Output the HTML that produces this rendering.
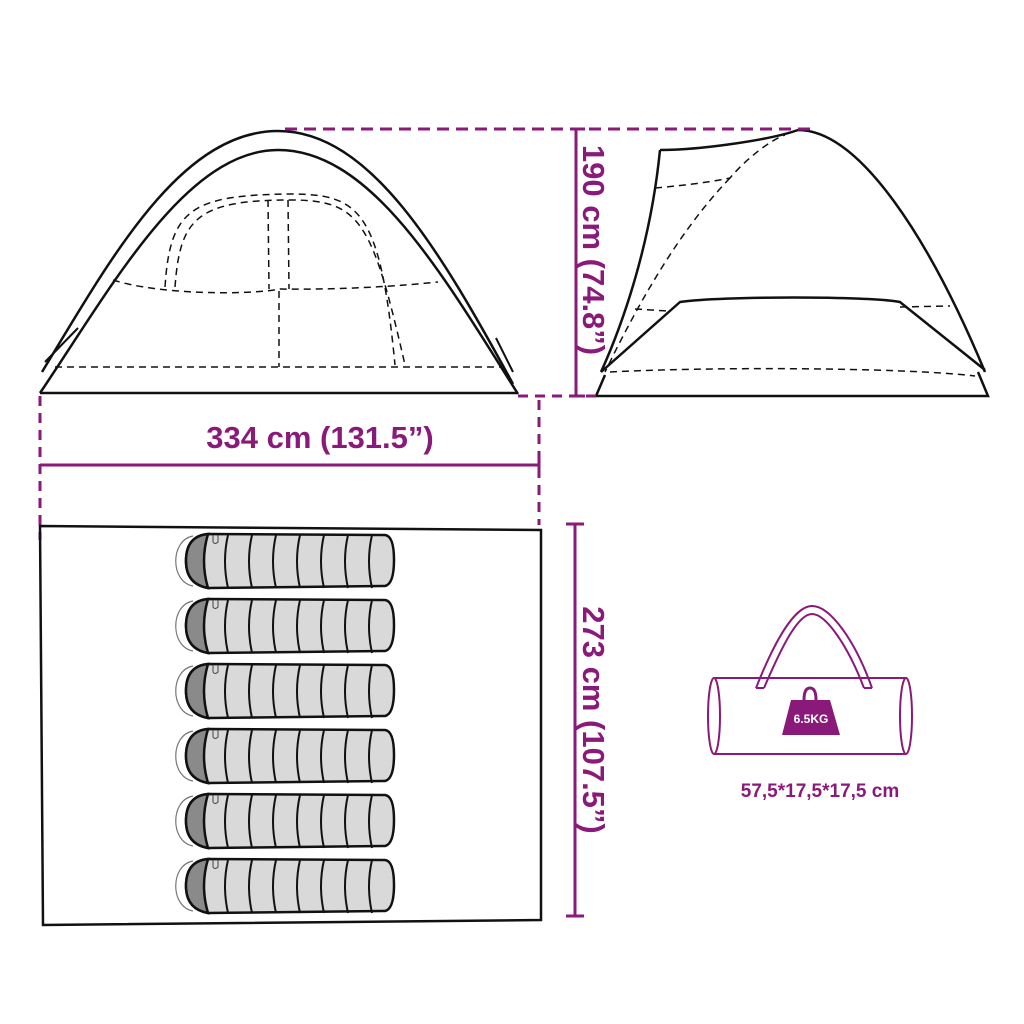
<!DOCTYPE html>
<html><head><style>html,body{margin:0;padding:0;background:#fff}svg{display:block}</style></head><body>
<svg width="1024" height="1024" viewBox="0 0 1024 1024" xmlns="http://www.w3.org/2000/svg" font-family="Liberation Sans, sans-serif">
<defs>
<g id="bag">
  <path d="M193,4 C170,8 170,50 193,54" fill="none" stroke="#777" stroke-width="1.2"/>
  <path d="M208,2 L385,3 Q394,4 394,28 Q394,52 385,54 L208,56 Q186,52 186,29 Q186,4 208,2 Z" fill="#d9d9d9" stroke="#111" stroke-width="2.5"/>
  <path d="M208,2 Q186,4 186,29 Q186,52 208,56 Q200,29 208,2 Z" fill="#8a8a8a" stroke="#111" stroke-width="2.5"/>
  <path d="M228,3 Q222,29 228,56 M252,3 Q246,29 252,56 M276,3 Q270,29 276,56 M300,3 Q294,29 300,56 M324,3 Q318,29 324,56 M348,3 Q342,29 348,56 M372,3 Q366,29 372,56" fill="none" stroke="#111" stroke-width="2"/>
  <path d="M213,3 L213,10 Q215,13 218,10 L218,3" fill="none" stroke="#444" stroke-width="1"/>
</g>
</defs>
<g fill="none" stroke="#111" stroke-width="2.5">
  <path d="M42,372 C110,260 180,131 278,131 C370,131 440,250 513,384"/>
  <path d="M40,393 C110,290 185,150 278,150 C370,150 440,270 518,394"/>
  <path d="M40,393 L518,393"/>
  <path d="M45,362 L78,328 M496,338 L513,372" stroke-width="2"/>
</g>
<g fill="none" stroke="#111" stroke-width="1.5" stroke-dasharray="7,5">
  <path d="M55,367 L502,367"/>
  <path d="M113,280 C160,295 250,295 280,289 C340,290 400,286 438,282"/>
  <path d="M165,287 C170,210 190,195 290,194 C360,194 380,210 395,365"/>
  <path d="M175,287 C180,220 195,200 290,200 C360,200 372,220 405,365"/>
  <path d="M268,200 L269,289 M288,200 L289,289 M279,291 L279,367"/>
</g>
<g fill="none" stroke="#111" stroke-width="2.5">
  <path d="M660,150 C700,150 770,140 798,130 C860,130 930,240 985,372"/>
  <path d="M660,150 C650,250 620,330 601,372"/>
  <path d="M601,372 L680,302 C720,296 870,296 900,302 L985,370"/>
  <path d="M596,396 L988,396 L978,372 M596,396 L605,375"/>
</g>
<g fill="none" stroke="#111" stroke-width="1.5" stroke-dasharray="7,5">
  <path d="M655,188 C700,184 720,180 730,178 C745,160 770,140 785,135"/>
  <path d="M730,178 C680,230 640,300 605,372"/>
  <path d="M635,309 L668,311 M900,307 L950,306"/>
  <path d="M610,372 C700,367 900,367 975,376"/>
</g>
<g fill="none" stroke="#8a1a7a" stroke-width="3">
  <path d="M285,129 L815,129" stroke-dasharray="12,7"/>
  <path d="M576,129 L576,396 M576,129 L585,129 M576,396 L585,396"/>
  <path d="M40,396 L40,540 M539,400 L539,525 M518,396 L596,396" stroke-dasharray="10,7"/>
  <path d="M40,465 L539,465 M539,458 L539,470"/>
  <path d="M575,524 L575,916 M566,524 L584,524 M566,916 L584,916"/>
</g>
<g fill="#8a1a7a" font-weight="bold" font-size="31">
  <text x="320" y="448" text-anchor="middle">334 cm (131.5”)</text>
  <text transform="translate(583,250) rotate(90)" text-anchor="middle">190 cm (74.8”)</text>
  <text transform="translate(583,720) rotate(90)" text-anchor="middle">273 cm (107.5”)</text>
  <text x="820" y="797" text-anchor="middle" font-size="19">57,5*17,5*17,5 cm</text>
</g>
<path d="M40,526 L541,530 L541,920 L43,925 Z" fill="none" stroke="#111" stroke-width="2.5"/>
<use href="#bag" transform="translate(0,532)"/>
<use href="#bag" transform="translate(0,597)"/>
<use href="#bag" transform="translate(0,662)"/>
<use href="#bag" transform="translate(0,727)"/>
<use href="#bag" transform="translate(0,792)"/>
<use href="#bag" transform="translate(0,857)"/>
<g fill="none" stroke="#8a1a7a" stroke-width="2">
  <path d="M714,678 L906,678 M714,754 L906,754"/>
  <ellipse cx="714" cy="716" rx="6" ry="38"/>
  <ellipse cx="906" cy="716" rx="6" ry="38"/>
  <path d="M756,688 C775,640 795,606 812,606 C830,606 855,640 872,688"/>
  <path d="M764,688 C782,646 798,614 812,614 C826,614 848,646 864,688"/>
  <path d="M756,688 L764,688 M864,688 L872,688"/>
  <path d="M804,700 Q804,688 810,688 Q816,688 816,700" stroke-width="3"/>
</g>
<path d="M791,700 L830,700 L840,735 L782,735 Z" fill="#8a1a7a"/>
<text x="811" y="723" text-anchor="middle" font-size="12" font-weight="bold" fill="#fff">6.5KG</text>
</svg>
</body></html>
